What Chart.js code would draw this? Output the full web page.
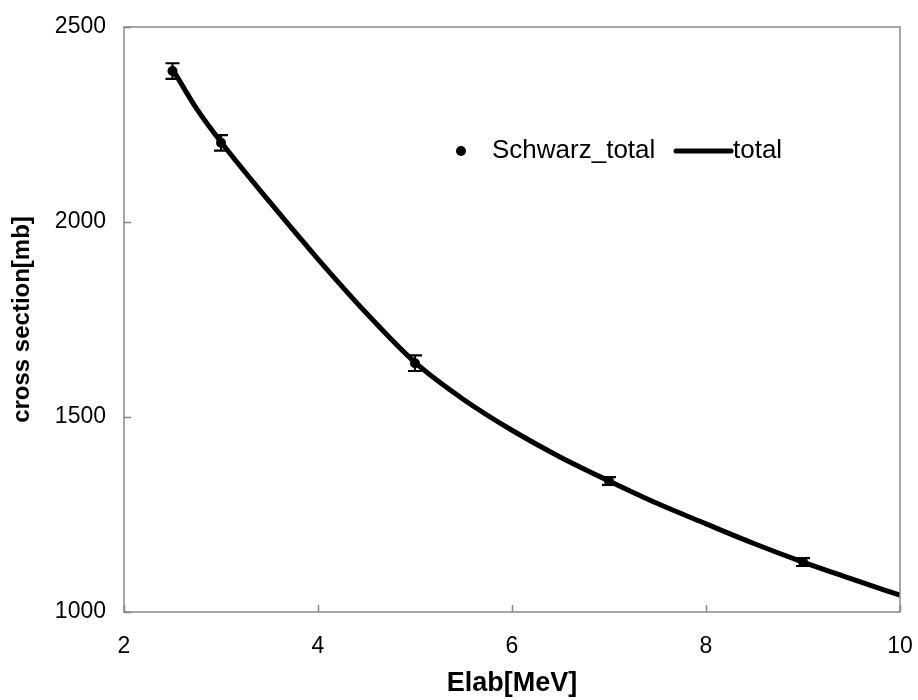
<!DOCTYPE html>
<html>
<head>
<meta charset="utf-8">
<script src="https://cdn.jsdelivr.net/npm/chart.js@4/dist/chart.umd.min.js"></script>
<style>
  html, body { margin: 0; padding: 0; background: #ffffff; }
  #wrap { width: 918px; height: 700px; }
</style>
</head>
<body>
<div id="wrap"><canvas id="c" width="918" height="700"></canvas></div>
<script>
// ---- data ----
const expEnergy = [2.5, 3, 5, 7, 9];
const schwarzTotal = [2387, 2203, 1638, 1336, 1128];
const schwarzError = [20, 20, 20, 10, 10];

const curveEnergy = [2.5, 2.75, 3, 3.5, 4, 4.5, 5, 5.5, 6, 6.5, 7, 7.5, 8, 8.5, 9, 9.5, 10];
const totalCurve = [2392, 2290, 2205, 2052, 1905, 1766, 1640, 1545, 1466, 1397, 1336, 1278, 1226, 1175, 1128, 1085, 1043];

const xTickValues = [2, 4, 6, 8, 10];
const yTickValues = [1000, 1500, 2000, 2500];

const legendLabels = ['Schwarz_total', 'total'];
const xTitle = 'Elab[MeV]';
const yTitle = 'cross section[mb]';

// ---- chart ----
const FONT = "'Liberation Sans', Arial, sans-serif";
const AXIS_COLOR = '#898989';

const expPoints = expEnergy.map((x, i) => ({ x: x, y: schwarzTotal[i] }));
const curvePoints = curveEnergy.map((x, i) => ({ x: x, y: totalCurve[i] }));

const frameAndTicks = {
  id: 'frameAndTicks',
  afterDatasetsDraw(chart) {
    const ctx = chart.ctx;
    const a = chart.chartArea;
    const xs = chart.scales.x, ys = chart.scales.y;
    ctx.save();
    ctx.strokeStyle = AXIS_COLOR;
    ctx.lineWidth = 1.5;
    ctx.strokeRect(a.left, a.top, a.right - a.left, a.bottom - a.top);
    ctx.beginPath();
    xTickValues.forEach(v => {
      const px = Math.round(xs.getPixelForValue(v)) + 0.5;
      ctx.moveTo(px, a.bottom);
      ctx.lineTo(px, a.bottom - 7);
    });
    yTickValues.forEach(v => {
      const py = Math.round(ys.getPixelForValue(v)) + 0.5;
      ctx.moveTo(a.left, py);
      ctx.lineTo(a.left + 7, py);
    });
    ctx.stroke();
    ctx.restore();
  }
};

const errorBars = {
  id: 'errorBars',
  afterDatasetsDraw(chart) {
    const ctx = chart.ctx;
    const xs = chart.scales.x, ys = chart.scales.y;
    ctx.save();
    ctx.strokeStyle = '#000000';
    ctx.lineWidth = 2.2;
    expEnergy.forEach((x, i) => {
      const px = xs.getPixelForValue(x);
      const yTop = ys.getPixelForValue(schwarzTotal[i] + schwarzError[i]);
      const yBot = ys.getPixelForValue(schwarzTotal[i] - schwarzError[i]);
      ctx.beginPath();
      ctx.moveTo(px, yTop); ctx.lineTo(px, yBot);
      ctx.moveTo(px - 7, yTop); ctx.lineTo(px + 7, yTop);
      ctx.moveTo(px - 7, yBot); ctx.lineTo(px + 7, yBot);
      ctx.stroke();
    });
    ctx.restore();
  }
};

const innerLegend = {
  id: 'innerLegend',
  afterDraw(chart) {
    const ctx = chart.ctx;
    const a = chart.chartArea;
    const y = a.top + 124;
    ctx.save();
    ctx.fillStyle = '#000000';
    ctx.beginPath();
    ctx.arc(461, y, 5, 0, Math.PI * 2);
    ctx.fill();
    ctx.font = '26px ' + FONT;
    ctx.textBaseline = 'middle';
    ctx.textAlign = 'left';
    ctx.fillText(legendLabels[0], 492, y);
    ctx.strokeStyle = '#000000';
    ctx.lineWidth = 5;
    ctx.lineCap = 'round';
    ctx.beginPath();
    ctx.moveTo(676, y); ctx.lineTo(731, y);
    ctx.stroke();
    ctx.fillText(legendLabels[1], 733, y);
    ctx.restore();
  }
};

new Chart(document.getElementById('c'), {
  type: 'scatter',
  data: {
    datasets: [
      {
        label: legendLabels[1],
        data: curvePoints,
        showLine: true,
        borderColor: '#000000',
        borderWidth: 5,
        pointRadius: 0,
        cubicInterpolationMode: 'monotone',
        order: 1
      },
      {
        label: legendLabels[0],
        data: expPoints,
        showLine: false,
        pointRadius: 5,
        pointBackgroundColor: '#000000',
        pointBorderColor: '#000000',
        pointBorderWidth: 0,
        order: 2
      }
    ]
  },
  options: {
    responsive: false,
    animation: false,
    devicePixelRatio: 1,
    layout: { padding: { left: 0, right: 18, top: 27, bottom: 0 } },
    plugins: { legend: { display: false }, tooltip: { enabled: false } },
    scales: {
      x: {
        type: 'linear',
        min: 2, max: 10,
        afterBuildTicks(scale) { scale.ticks = xTickValues.map(v => ({ value: v })); },
        afterFit(scale) { scale.height = 88; scale.paddingLeft = 0; scale.paddingRight = 0; },
        grid: { display: false, drawTicks: false },
        border: { display: false },
        ticks: { color: '#000000', font: { family: FONT, size: 23 }, padding: 21, callback: v => String(v) },
        title: {
          display: true, text: xTitle, color: '#000000',
          font: { family: FONT, size: 27, weight: 'bold' },
          padding: { top: 0, bottom: 0 }
        }
      },
      y: {
        type: 'linear',
        min: 1000, max: 2500,
        afterBuildTicks(scale) { scale.ticks = yTickValues.map(v => ({ value: v })); },
        afterFit(scale) { scale.width = 124; scale.paddingTop = 0; scale.paddingBottom = 0; },
        grid: { display: false, drawTicks: false },
        border: { display: false },
        ticks: { color: '#000000', font: { family: FONT, size: 23 }, padding: 18, callback: v => String(v) },
        title: {
          display: true, text: yTitle, color: '#000000',
          font: { family: FONT, size: 24, weight: 'bold' },
          padding: { top: 8, bottom: 0 }
        }
      }
    }
  },
  plugins: [frameAndTicks, errorBars, innerLegend]
});
</script>
</body>
</html>
